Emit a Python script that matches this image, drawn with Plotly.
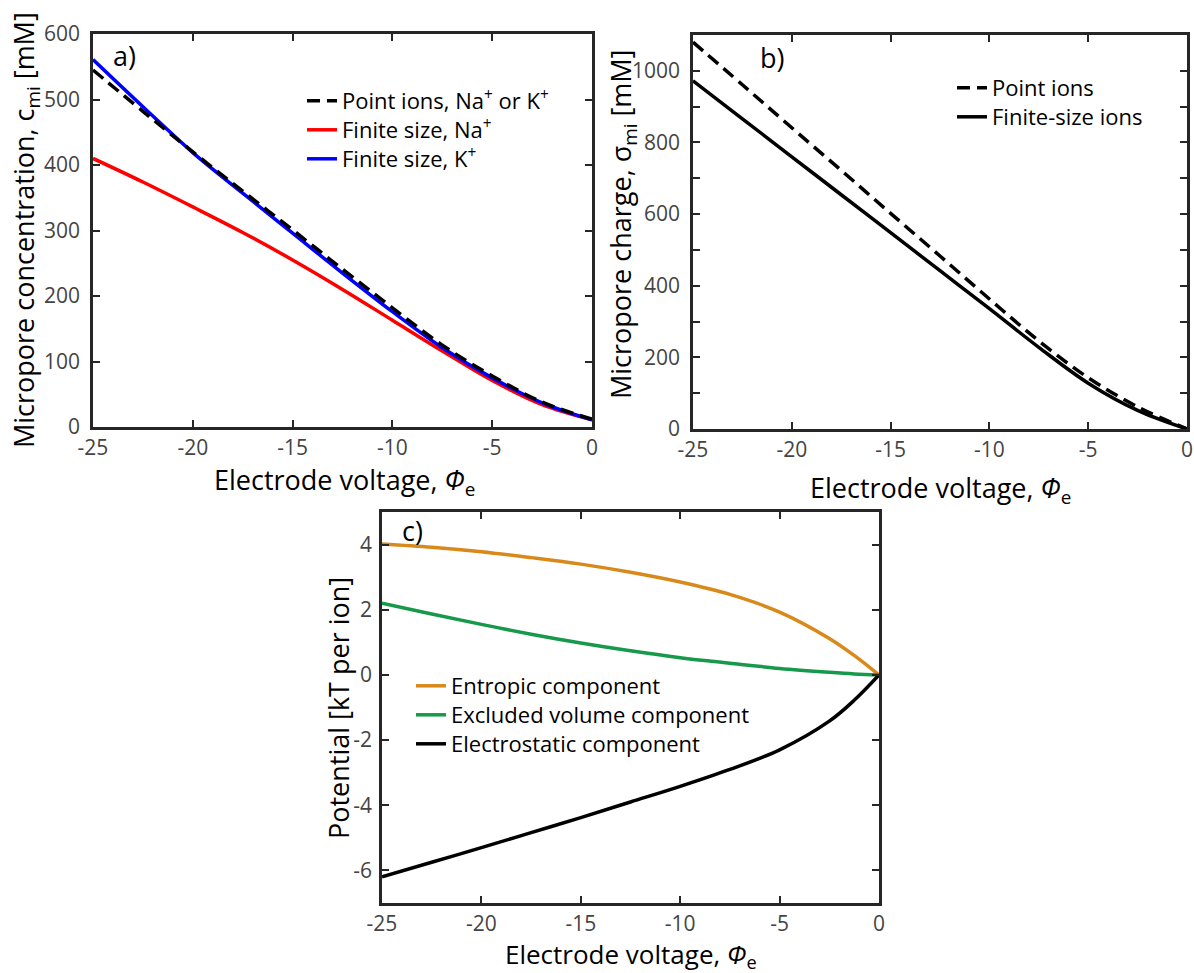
import plotly.graph_objects as go

W, H = 1194, 973

# ---------------- data ----------------
voltage = [-25, -22.5, -20, -17.5, -15, -12.5, -10, -7.5, -5, -2.5, 0]

# panel a: micropore concentration [mM]
conc_point = [545, 482, 420, 360, 301, 241, 182, 125, 78, 38, 12]
conc_na = [410, 374, 336, 297, 255, 210, 163, 116, 71, 34, 11]
conc_k = [561, 489, 419, 357, 296, 235, 176, 121, 75, 37, 11]

# panel b: micropore charge [mM]
charge_point = [1080, 961, 841, 722, 602, 483, 363, 246, 143, 62, 0]
charge_finite = [972, 866, 760, 654, 548, 442, 336, 228, 128, 52, 0]

# panel c: potential components [kT per ion]
voltage_c = [-25, -22.5, -20, -17.5, -15, -12.5, -10, -7.5, -5, -2.5, -1.25, 0]
entropic = [4.02, 3.92, 3.78, 3.60, 3.40, 3.15, 2.85, 2.47, 1.93, 1.12, 0.60, 0]
excluded = [2.20, 1.87, 1.55, 1.25, 0.98, 0.74, 0.53, 0.36, 0.20, 0.08, 0.03, 0]
electro = [-6.20, -5.75, -5.30, -4.84, -4.38, -3.90, -3.42, -2.90, -2.30, -1.42, -0.78, 0]

x_ticks = [-25, -20, -15, -10, -5, 0]
x_ticktext = ["-25", "-20", "-15", "-10", "-5", "0"]
y3_ticks = [-6, -4, -2, 0, 2, 4]
y3_ticktext = ["-6", "-4", "-2", "0", "2", "4"]

# ---------------- helpers ----------------
def px(x):
    return x / W

def py(y):
    return 1 - y / H

FONT = "Open Sans"
AX_COL = "#262626"
TICK_COL = "#444444"

def axis_style(**kw):
    d = dict(
        showline=True, linewidth=2.5, linecolor=AX_COL, mirror="ticks",
        ticks="inside", ticklen=7, tickwidth=2, tickcolor=AX_COL,
        showgrid=False, zeroline=False, automargin=False, ticklabeloverflow="allow",
        tickfont=dict(family=FONT, size=21, color=TICK_COL),
    )
    d.update(kw)
    return d

fig = go.Figure()

LW = 3.5
DASH = "13px,7px"

# panel a (dashed drawn last, on top)
fig.add_trace(go.Scatter(x=voltage, y=conc_na, mode="lines", line=dict(color="#ff0000", width=LW, shape="spline"),
                         name="Finite size, Na<sup>+</sup>", xaxis="x", yaxis="y", legend="legend2"))
fig.add_trace(go.Scatter(x=voltage, y=conc_k, mode="lines", line=dict(color="#0000ff", width=LW, shape="spline"),
                         name="Finite size, K<sup>+</sup>", xaxis="x", yaxis="y", legend="legend3"))
fig.add_trace(go.Scatter(x=voltage, y=conc_point, mode="lines", line=dict(color="black", width=LW, dash=DASH, shape="spline"),
                         name="Point ions, Na<sup>+</sup> or K<sup>+</sup>", xaxis="x", yaxis="y", legend="legend"))

# panel b
fig.add_trace(go.Scatter(x=voltage, y=charge_point, mode="lines", line=dict(color="black", width=LW, dash=DASH, shape="spline"),
                         name="Point ions", xaxis="x2", yaxis="y2", legend="legend4"))
fig.add_trace(go.Scatter(x=voltage, y=charge_finite, mode="lines", line=dict(color="black", width=LW, shape="spline"),
                         name="Finite-size ions", xaxis="x2", yaxis="y2", legend="legend5"))

# panel c
fig.add_trace(go.Scatter(x=voltage_c, y=entropic, mode="lines", line=dict(color="#d9891a", width=LW, shape="spline"),
                         name="Entropic component", xaxis="x3", yaxis="y3", legend="legend6"))
fig.add_trace(go.Scatter(x=voltage_c, y=excluded, mode="lines", line=dict(color="#16994a", width=LW, shape="spline"),
                         name="Excluded volume component", xaxis="x3", yaxis="y3", legend="legend7"))
fig.add_trace(go.Scatter(x=voltage_c, y=electro, mode="lines", line=dict(color="black", width=LW, shape="spline"),
                         name="Electrostatic component", xaxis="x3", yaxis="y3", legend="legend8"))

def leg(text_x, center_y):
    return dict(x=px(text_x - 40), y=py(center_y), xanchor="left", yanchor="middle",
                bgcolor="rgba(0,0,0,0)", borderwidth=0,
                font=dict(family=FONT, size=22, color="black"))

xa = dict(range=[-25, 0], tickvals=x_ticks, ticktext=x_ticktext, ticklabelstandoff=0)
fig.update_layout(
    width=W, height=H,
    margin=dict(l=0, r=0, t=0, b=0),
    paper_bgcolor="white", plot_bgcolor="white",
    showlegend=True,
    xaxis=axis_style(domain=[px(93), px(592)], anchor="y", **xa),
    yaxis=axis_style(domain=[py(427), py(34)], range=[0, 600], dtick=100, anchor="x", ticklabelstandoff=6),
    xaxis2=axis_style(domain=[px(693), px(1187)], anchor="y2", **xa),
    yaxis2=axis_style(domain=[py(429), py(35)], range=[0, 1100], tickvals=[0, 200, 400, 600, 800, 1000], anchor="x2",
                      ticklabelstandoff=6,
                      minor=dict(dtick=100, tick0=0, ticks="inside", ticklen=7, tickwidth=2, tickcolor=AX_COL)),
    xaxis3=axis_style(domain=[px(382), px(879)], anchor="y3", **xa),
    yaxis3=axis_style(domain=[py(903), py(512)], range=[-7, 5], tickvals=y3_ticks, ticktext=y3_ticktext,
                      anchor="x3", ticklabelstandoff=3),
    legend=leg(342, 101),
    legend2=leg(342, 130),
    legend3=leg(342, 159),
    legend4=leg(992, 88),
    legend5=leg(992, 117),
    legend6=leg(451, 686),
    legend7=leg(451, 715),
    legend8=leg(451, 744),
)

ann = []
def title(text, x, y, angle=0, size=27):
    ann.append(dict(text=text, x=px(x), y=py(y), xref="paper", yref="paper", showarrow=False,
                    textangle=angle, xanchor="center", yanchor="middle",
                    font=dict(family=FONT, size=size, color="black")))

title("Electrode voltage, <i>Φ</i><sub>e</sub>", 345, 481)
title("Electrode voltage, <i>Φ</i><sub>e</sub>", 941, 489)
title("Electrode voltage, <i>Φ</i><sub>e</sub>", 631, 955, size=26)
title("Micropore concentration, c<sub>mi</sub> [mM]", 25, 230, angle=-90)
title("Micropore charge, σ<sub>mi</sub> [mM]", 623, 225, angle=-90)
title("Potential [kT per ion]", 338, 708, angle=-90)
title("a)", 124, 56)
title("b)", 772, 57)
title("c)", 412, 530)
fig.update_layout(annotations=ann)

fig.write_html("out.html", config={"displayModeBar": False},
               post_script="document.body.style.margin='0px';document.body.style.overflow='hidden';")
